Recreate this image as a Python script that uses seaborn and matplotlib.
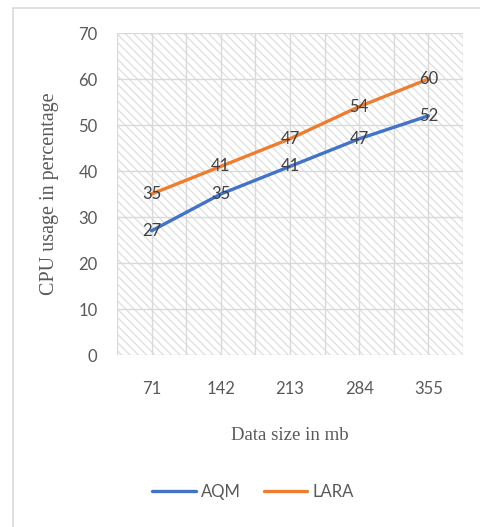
import numpy as np
import pandas as pd
import matplotlib
matplotlib.use("Agg")
import matplotlib.pyplot as plt
import seaborn as sns
from matplotlib.patches import Rectangle
from matplotlib.lines import Line2D
from matplotlib.ticker import MultipleLocator

# datos
tamanos = ["71", "142", "213", "284", "355"]
aqm = [27, 35, 41, 47, 52]
lara = [35, 41, 47, 54, 60]
series = ["AQM", "LARA"]
colores = ["#4472C4", "#ED7D31"]

df = pd.DataFrame({
    "Data size": tamanos * 2,
    "CPU": aqm + lara,
    "Serie": ["AQM"] * len(aqm) + ["LARA"] * len(lara),
})

sns.set_style("white")
plt.rcParams["font.family"] = ["Lato", "DejaVu Sans"]
plt.rcParams["hatch.linewidth"] = 0.9

fig = plt.figure(figsize=(4.81, 5.27), dpi=100)
ax = fig.add_axes([117 / 481, 1 - 355 / 527, 346 / 481, 322 / 527])

# fondo rayado del area de trazado
fondo = Rectangle((0, 0), 1, 1, transform=ax.transAxes, facecolor="white",
                  edgecolor="#dedede", linewidth=0, hatch="\\\\\\\\", zorder=0)
ax.add_patch(fondo)

ax = sns.lineplot(data=df, x="Data size", y="CPU", hue="Serie", palette=colores,
                  linewidth=2.4, legend=False, ax=ax, zorder=3)

ax.set_xlim(-0.5, 4.5)
ax.set_ylim(0, 70)
ax.yaxis.set_major_locator(MultipleLocator(10))
ax.xaxis.set_minor_locator(MultipleLocator(0.5))
ax.grid(True, which="both", axis="x", color="#d9d9d9", linewidth=1.0, zorder=1)
ax.grid(True, which="major", axis="y", color="#d9d9d9", linewidth=1.0, zorder=1)
ax.set_axisbelow(True)
for s in ax.spines.values():
    s.set_visible(False)

ax.tick_params(axis="y", length=0, pad=14, labelsize=12, labelcolor="#595959")
ax.tick_params(axis="x", which="both", length=0, pad=18.5, labelsize=12, labelcolor="#595959")

ax.set_xlabel("Data size in mb", family="Liberation Serif", fontsize=13.5,
              color="#595959", labelpad=22)
ax.set_ylabel("CPU usage in percentage", family="Liberation Serif", fontsize=14.5,
              color="#595959", labelpad=14)

# etiquetas de datos
for valores in [aqm, lara]:
    for i, v in enumerate(valores):
        ax.text(i, v, str(v), ha="center", va="center", fontsize=12,
                color="#404040", zorder=4)

# leyenda inferior
handles = [Line2D([], [], color=c, linewidth=2.4) for c in colores]
fig.legend(handles, series, loc="center", bbox_to_anchor=(253 / 481, 1 - 492 / 527),
           ncol=2, frameon=False, fontsize=12, labelcolor="#595959",
           handlelength=2.6, handletextpad=0.3, columnspacing=1.4)

# marco del grafico (recortado)
fig.add_artist(Line2D([13 / 481, 13 / 481], [0, 1 - 8 / 527], color="#d9d9d9",
                      linewidth=1.2, transform=fig.transFigure))
fig.add_artist(Line2D([13 / 481, 1], [1 - 8 / 527, 1 - 8 / 527], color="#d9d9d9",
                      linewidth=1.2, transform=fig.transFigure))

fig.savefig("out.png", dpi=100)
